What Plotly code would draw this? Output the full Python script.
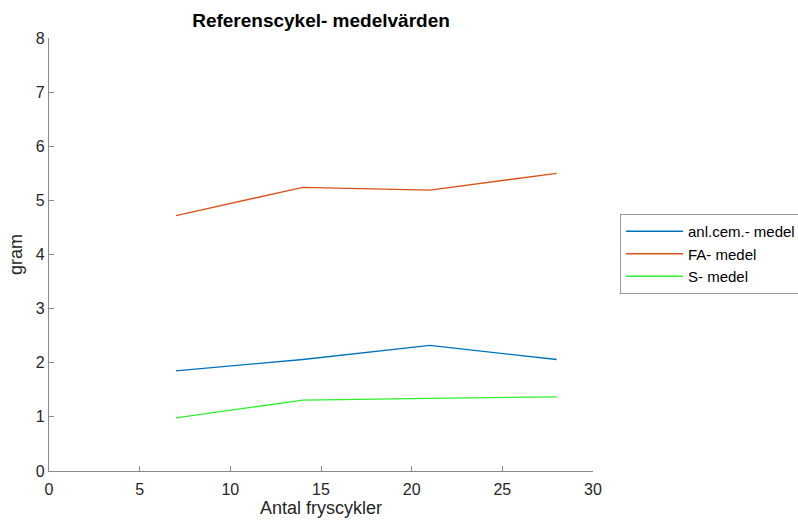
import plotly.graph_objects as go

# Antal fryscykler
cycles = [7, 14, 21, 28]

# Medelvärden (gram) per serie
anl_cem = [1.85, 2.06, 2.32, 2.06]
fa_medel = [4.72, 5.24, 5.19, 5.50]
s_medel = [0.98, 1.31, 1.34, 1.37]

series_names = ["anl.cem.- medel", "FA- medel", "S- medel"]
series_colors = ["#0072BD", "#D95319", "#2EF02E"]

FONT = "Liberation Sans, Arial, sans-serif"

fig = go.Figure()
for name, vals, col in zip(series_names, [anl_cem, fa_medel, s_medel], series_colors):
    fig.add_trace(go.Scatter(
        x=cycles, y=vals, mode="lines", name=name,
        line=dict(color=col, width=1.3),
    ))

axis_common = dict(
    showgrid=False, zeroline=False, showline=True,
    linecolor="#8a8a8a", linewidth=1.2,
    ticks="inside", ticklen=5, tickcolor="#8a8a8a", tickwidth=1,
    tickfont=dict(family=FONT, size=16, color="#262626"),
    mirror=False,
)

fig.update_layout(
    width=798, height=522,
    margin=dict(l=49, r=205, t=38, b=51, autoexpand=False),
    paper_bgcolor="white", plot_bgcolor="white",
    title=dict(
        text="<b>Referenscykel- medelvärden</b>",
        x=321 / 798, xanchor="center", y=1 - 20 / 522, yanchor="middle",
        font=dict(family=FONT, size=19, color="#000000"),
    ),
    xaxis=dict(
        range=[0, 30], tickvals=[0, 5, 10, 15, 20, 25, 30],
        ticklabelstandoff=4,
        title=dict(text="Antal fryscykler", standoff=4,
                   font=dict(family=FONT, size=18, color="#262626")),
        **axis_common,
    ),
    yaxis=dict(
        range=[0, 8], tickvals=list(range(0, 9)),
        title=dict(text="gram", standoff=8,
                   font=dict(family=FONT, size=18, color="#262626")),
        **axis_common,
    ),
    legend=dict(
        x=(620 - 49) / 544, y=(471 - 214) / 433, xanchor="left", yanchor="top",
        bordercolor="#9a9a9a", borderwidth=1, bgcolor="white",
        font=dict(family=FONT, size=15, color="#000000"),
        tracegroupgap=0, itemwidth=57,
    ),
    showlegend=True,
)

fig.write_html("out.html")
